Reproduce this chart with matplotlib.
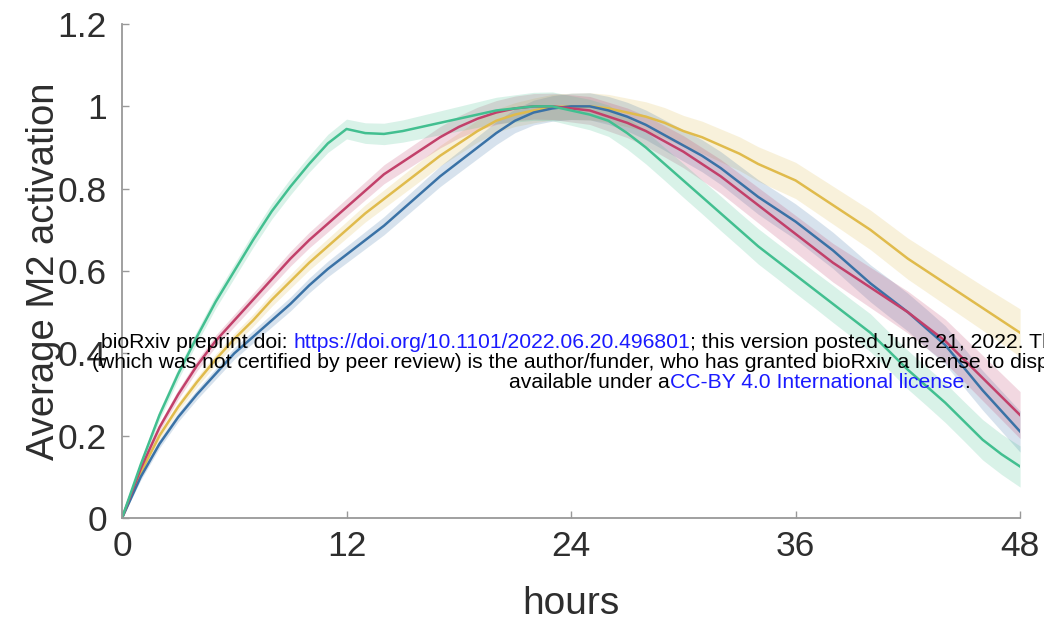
import numpy as np
import matplotlib
matplotlib.use("Agg")
import matplotlib.pyplot as plt
from matplotlib.ticker import FuncFormatter

plt.rcParams['font.family'] = ['Liberation Sans', 'DejaVu Sans']

# time axis (hours) and mean M2 activation per condition
hours = list(range(0, 49))

green = [0.00, 0.13, 0.25, 0.35, 0.44, 0.525, 0.60, 0.675, 0.745, 0.805,
         0.86, 0.91, 0.945, 0.935, 0.933, 0.94, 0.95, 0.96, 0.97, 0.98,
         0.99, 0.995, 1.00, 1.00, 0.99, 0.98, 0.965, 0.935, 0.90, 0.86,
         0.82, 0.78, 0.74, 0.70, 0.66, 0.625, 0.59, 0.555, 0.52, 0.485,
         0.45, 0.405, 0.36, 0.32, 0.28, 0.235, 0.19, 0.155, 0.125]
red = [0.00, 0.12, 0.22, 0.30, 0.37, 0.43, 0.48, 0.53, 0.58, 0.63,
       0.675, 0.715, 0.755, 0.795, 0.835, 0.865, 0.895, 0.925, 0.95, 0.97,
       0.985, 0.995, 1.00, 1.00, 0.995, 0.99, 0.975, 0.96, 0.94, 0.915,
       0.89, 0.86, 0.83, 0.795, 0.76, 0.725, 0.69, 0.655, 0.62, 0.59,
       0.56, 0.53, 0.50, 0.465, 0.43, 0.385, 0.34, 0.295, 0.25]
yellow = [0.00, 0.11, 0.20, 0.27, 0.33, 0.385, 0.435, 0.48, 0.53, 0.575,
          0.62, 0.66, 0.70, 0.74, 0.775, 0.81, 0.845, 0.88, 0.91, 0.94,
          0.965, 0.98, 0.99, 0.998, 1.00, 1.00, 0.995, 0.985, 0.975, 0.96,
          0.94, 0.925, 0.905, 0.885, 0.86, 0.84, 0.82, 0.79, 0.76, 0.73,
          0.70, 0.665, 0.63, 0.60, 0.57, 0.54, 0.51, 0.48, 0.45]
blue = [0.00, 0.10, 0.18, 0.245, 0.30, 0.35, 0.40, 0.44, 0.48, 0.52,
        0.565, 0.605, 0.64, 0.675, 0.71, 0.75, 0.79, 0.83, 0.865, 0.90,
        0.935, 0.965, 0.985, 0.995, 1.00, 1.00, 0.99, 0.975, 0.955, 0.93,
        0.905, 0.88, 0.85, 0.815, 0.78, 0.75, 0.72, 0.685, 0.65, 0.61,
        0.57, 0.535, 0.50, 0.46, 0.42, 0.365, 0.31, 0.26, 0.21]

# standard error bands
green_sem = [0.00, 0.01, 0.012, 0.014, 0.015, 0.016, 0.017, 0.018, 0.019, 0.02,
             0.02, 0.022, 0.024, 0.025, 0.026, 0.027, 0.028, 0.029, 0.03, 0.031,
             0.032, 0.033, 0.034, 0.035, 0.036, 0.037, 0.038, 0.039, 0.04, 0.04,
             0.041, 0.041, 0.042, 0.042, 0.043, 0.043, 0.044, 0.044, 0.045, 0.045,
             0.046, 0.046, 0.047, 0.047, 0.048, 0.048, 0.049, 0.049, 0.05]
red_sem = [0.00, 0.008, 0.01, 0.012, 0.013, 0.014, 0.015, 0.016, 0.017, 0.018,
           0.019, 0.02, 0.021, 0.022, 0.023, 0.024, 0.025, 0.026, 0.027, 0.028,
           0.029, 0.03, 0.031, 0.032, 0.033, 0.034, 0.035, 0.036, 0.037, 0.038,
           0.039, 0.04, 0.041, 0.042, 0.043, 0.044, 0.045, 0.046, 0.047, 0.048,
           0.049, 0.05, 0.051, 0.052, 0.053, 0.054, 0.055, 0.056, 0.057]
yellow_sem = [0.00, 0.008, 0.01, 0.011, 0.012, 0.013, 0.014, 0.015, 0.016, 0.017,
              0.018, 0.019, 0.02, 0.021, 0.022, 0.023, 0.024, 0.025, 0.026, 0.027,
              0.028, 0.029, 0.03, 0.031, 0.032, 0.033, 0.034, 0.035, 0.036, 0.037,
              0.038, 0.039, 0.04, 0.041, 0.042, 0.043, 0.044, 0.045, 0.046, 0.047,
              0.048, 0.049, 0.05, 0.051, 0.052, 0.053, 0.054, 0.056, 0.058]
blue_sem = [0.00, 0.008, 0.01, 0.011, 0.012, 0.013, 0.014, 0.015, 0.016, 0.017,
            0.018, 0.019, 0.02, 0.021, 0.022, 0.023, 0.024, 0.025, 0.026, 0.027,
            0.028, 0.029, 0.03, 0.031, 0.032, 0.033, 0.034, 0.035, 0.036, 0.037,
            0.038, 0.039, 0.04, 0.041, 0.042, 0.043, 0.043, 0.044, 0.044, 0.045,
            0.045, 0.046, 0.046, 0.047, 0.047, 0.048, 0.048, 0.049, 0.05]

series = [
    (yellow, yellow_sem, '#e0bb4c'),
    (blue, blue_sem, '#3a72a6'),
    (red, red_sem, '#c2406a'),
    (green, green_sem, '#42bf90'),
]

fig = plt.figure(figsize=(10.44, 6.24), dpi=100)
ax = fig.add_axes([0.1169, 0.1699, 0.8602, 0.7916])

x = np.array(hours)
for mean, sem, col in series:
    m = np.array(mean)
    s = np.array(sem)
    ax.fill_between(x, m - s, m + s, color=col, alpha=0.2, linewidth=0)
for mean, sem, col in series:
    ax.plot(x, mean, color=col, linewidth=1.8)

ax.set_xlim(0, 48)
ax.set_ylim(0, 1.2)
ax.set_xticks([0, 12, 24, 36, 48])
ax.set_yticks([0, 0.2, 0.4, 0.6, 0.8, 1.0, 1.2])
ax.yaxis.set_major_formatter(FuncFormatter(lambda v, p: f'{v:g}'))

for side in ['top', 'right']:
    ax.spines[side].set_visible(False)
for side in ['left', 'bottom']:
    ax.spines[side].set_color('#999999')
    ax.spines[side].set_linewidth(1.3)

ax.tick_params(direction='in', length=5, width=1.0, color='#999999',
               labelsize=25.5, labelcolor='#2e2e2e')
ax.tick_params(axis='x', pad=9)
ax.tick_params(axis='y', pad=11)

ax.set_xlabel('hours', fontsize=28, color='#2e2e2e', labelpad=16)
ax.set_ylabel('Average M2 activation', fontsize=27.5, color='#2e2e2e', labelpad=-3)

# preprint notice across the figure
wm_size = 15.2
blue_link = '#1a1aff'


def notice_line(x0, y0, parts):
    prev = fig.text(x0, y0, parts[0][0], color=parts[0][1], fontsize=wm_size,
                    ha='left', va='baseline', zorder=10)
    for txt, col in parts[1:]:
        prev = ax.annotate(txt, xycoords=prev, xy=(1, 0), va='bottom',
                           color=col, fontsize=wm_size, annotation_clip=False,
                           zorder=10)


notice_line(101 / 1044, 1 - 348 / 624, [
    ('bioRxiv preprint doi: ', 'black'),
    ('https://doi.org/10.1101/2022.06.20.496801', blue_link),
    ('; this version posted June 21, 2022. The', 'black'),
])
notice_line(92 / 1044, 1 - 368 / 624, [
    ('(which was not certified by peer review) is the author/funder, who has granted bioRxiv a license to display', 'black'),
])
notice_line(509 / 1044, 1 - 388 / 624, [
    ('available under a', 'black'),
    ('CC-BY 4.0 International license', blue_link),
    ('.', 'black'),
])

fig.savefig('out.png', dpi=100)
